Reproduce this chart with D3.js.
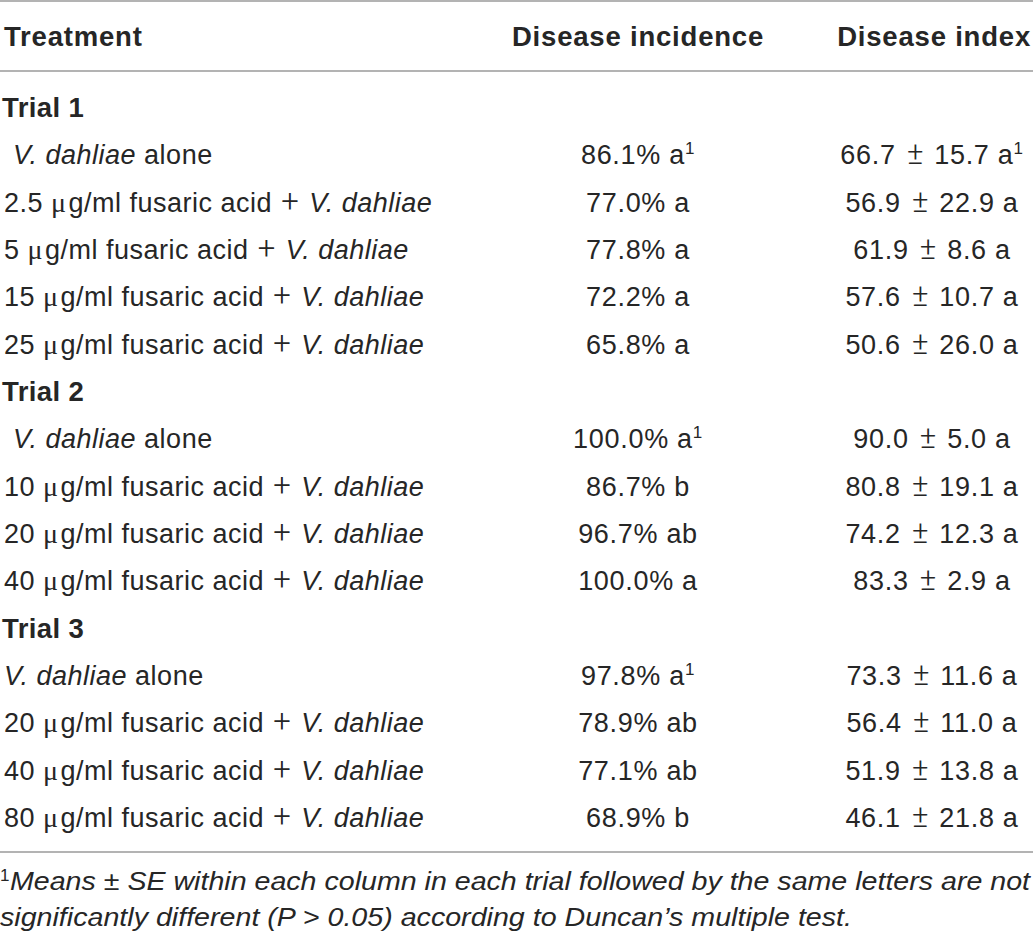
<!DOCTYPE html>
<html>
<head>
<meta charset="utf-8">
<script src="https://cdn.jsdelivr.net/npm/d3@7"></script>
<style>
  body { margin: 0; background: #fff; }
  svg text { font-family: "Liberation Sans", Arial, sans-serif; fill: #262626; white-space: pre; }
  .sym { font-family: Roboto, "Liberation Sans", sans-serif; font-weight: 300; }
</style>
</head>
<body>
<div id="table"></div>
<script>
// table values, one entry per trial
const trials = ["Trial 1", "Trial 2", "Trial 3"];
const doses = [[null, 2.5, 5, 15, 25], [null, 10, 20, 40], [null, 20, 40, 80]];
const incidence = [[86.1, 77.0, 77.8, 72.2, 65.8], [100.0, 86.7, 96.7, 100.0], [97.8, 78.9, 77.1, 68.9]];
const incidenceLetters = [["a", "a", "a", "a", "a"], ["a", "b", "ab", "a"], ["a", "ab", "ab", "b"]];
const indexMean = [[66.7, 56.9, 61.9, 57.6, 50.6], [90.0, 80.8, 74.2, 83.3], [73.3, 56.4, 51.9, 46.1]];
const indexSE = [[15.7, 22.9, 8.6, 10.7, 26.0], [5.0, 19.1, 12.3, 2.9], [11.6, 11.0, 13.8, 21.8]];
const indexLetters = [["a", "a", "a", "a", "a"], ["a", "a", "a", "a"], ["a", "a", "a", "a"]];
const headers = ["Treatment", "Disease incidence", "Disease index"];
const footnote = ["Means \u00b1 SE within each column in each trial followed by the same letters are not",
                  "significantly different (P > 0.05) according to Duncan\u2019s multiple test."];

const width = 1033, height = 939;
const svg = d3.select("#table").append("svg")
    .attr("width", width)
    .attr("height", height);

/* flatten trials into a list of rows so every line gets its own slot */
const rows = [];
trials.forEach((t, i) => {
    rows.push({ kind: "trial", label: t });
    doses[i].forEach((d, j) => {
        rows.push({
            kind: "row", trial: i, dose: d, first: j === 0,
            inc: incidence[i][j], incL: incidenceLetters[i][j],
            mean: indexMean[i][j], se: indexSE[i][j], idxL: indexLetters[i][j]
        });
    });
});

// row baselines
const y = d3.scalePoint()
    .domain(d3.range(rows.length))
    .range([117, 827]);

const colX = d3.scaleOrdinal()
    .domain(headers)
    .range([4, 638, 1031]);

const fs = 27;
const symSize = 31;   // the +/± signs are drawn wider in the original

// rules
const ruleColor = "#b3b3b3";
[1, 71, 852].forEach(ly => {
    svg.append("line")
        .attr("x1", 0).attr("x2", width)
        .attr("y1", ly).attr("y2", ly)
        .attr("stroke", ruleColor)
        .attr("stroke-width", 2);
});

// header
svg.selectAll(".hdr")
    .data(headers)
    .enter()
    .append("text")
    .attr("class", "hdr")
    .attr("x", d => colX(d))
    .attr("y", 46)
    .attr("text-anchor", (d, i) => ["start", "middle", "end"][i])
    .attr("font-size", 27.5)
    .attr("letter-spacing", 0.8)
    .attr("font-weight", "bold")
    .text(d => d);

const g = svg.selectAll(".row")
    .data(rows)
    .enter()
    .append("g")
    .attr("class", "row")
    .attr("transform", (d, i) => `translate(0,${y(i)})`);

g.filter(d => d.kind === "trial")
    .append("text")
    .attr("x", 2)
    .attr("font-size", 27.5)
    .attr("letter-spacing", 0.4)
    .attr("font-weight", "bold")
    .text(d => d.label);

const body = g.filter(d => d.kind === "row");

// treatment column
body.append("text")
    .attr("x", d => (d.dose === null && d.trial < 2) ? 13 : 4)
    .attr("font-size", fs)
    .attr("letter-spacing", 0.5)
    .each(function (d) {
        const t = d3.select(this);
        if (d.dose === null) {
            t.append("tspan").attr("font-style", "italic").text("V. dahliae");
            t.append("tspan").text(" alone");
        } else {
            t.append("tspan").text(`${d.dose} `);
            t.append("tspan").attr("font-family", "Liberation Serif").attr("font-size", 28).text("\u03bc");
            t.append("tspan").attr("dx", 2).text("g/ml fusaric acid ");
            t.append("tspan").attr("class", "sym").attr("dx", 1).attr("font-size", symSize).text("+");
            t.append("tspan").attr("font-style", "italic").attr("dx", 2).text(" V. dahliae");
        }
    });

// disease incidence
body.append("text")
    .attr("x", colX(headers[1]))
    .attr("text-anchor", "middle")
    .attr("font-size", fs)
    .attr("letter-spacing", 0.7)
    .each(function (d) {
        const t = d3.select(this);
        t.append("tspan").text(`${d.inc.toFixed(1)}% ${d.incL}`);
        if (d.first) t.append("tspan").attr("font-size", 17).attr("dy", -10).text("1");
    });

// disease index
body.append("text")
    .attr("x", 932)
    .attr("text-anchor", "middle")
    .attr("font-size", fs)
    .attr("letter-spacing", 0.7)
    .each(function (d) {
        const t = d3.select(this);
        t.append("tspan").text(`${d.mean.toFixed(1)} `);
        t.append("tspan").attr("class", "sym").attr("dx", 3).attr("font-size", symSize).text("\u00b1");
        t.append("tspan").attr("dx", 2).text(` ${d.se.toFixed(1)} ${d.idxL}`);
        if (d.first && d.trial === 0) t.append("tspan").attr("font-size", 17).attr("dy", -10).text("1");
    });

// footnote
svg.append("text")
    .attr("x", 0).attr("y", 881)
    .attr("font-size", 17)
    .text("1");
svg.append("text")
    .attr("x", 10).attr("y", 890)
    .attr("font-size", 26).attr("font-style", "italic")
    .attr("textLength", 1020).attr("lengthAdjust", "spacingAndGlyphs")
    .text(footnote[0]);

svg.append("text")
    .attr("x", 0).attr("y", 926)
    .attr("font-size", 26).attr("font-style", "italic")
    .attr("textLength", 852).attr("lengthAdjust", "spacingAndGlyphs")
    .text(footnote[1]);
</script>
</body>
</html>
